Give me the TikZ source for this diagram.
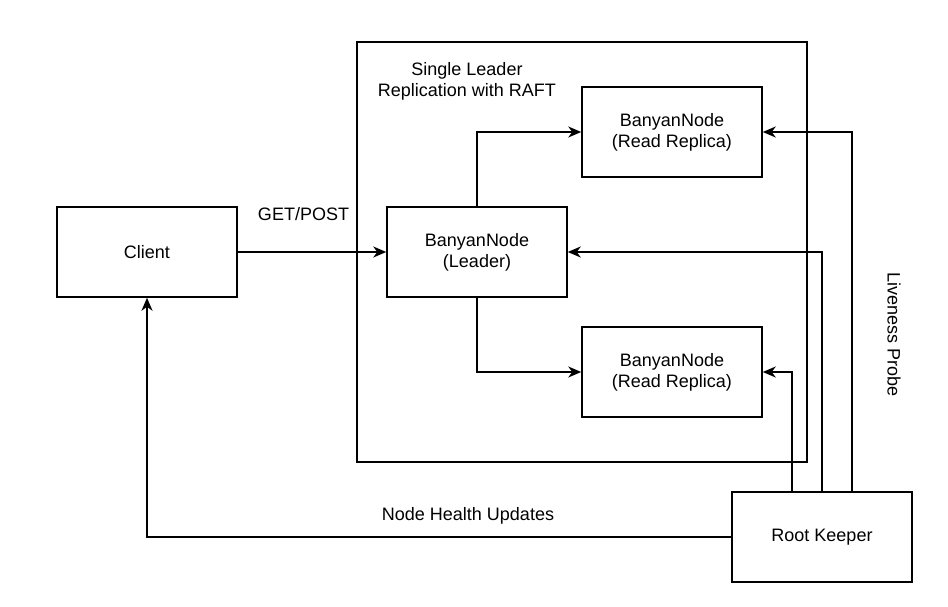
\documentclass[tikz,border=0pt]{standalone}
\usepackage{fontspec}
\setmainfont{Liberation Sans}
\usetikzlibrary{arrows.meta}
\begin{document}
\begin{tikzpicture}[x=1pt,y=-1pt,
  every node/.style={font=\fontsize{18}{21}\selectfont},
  box/.style={draw,line width=1.5pt,minimum width=180pt,minimum height=90pt,inner sep=0pt,align=center},
  link/.style={line width=1.5pt,-{Stealth[length=13pt,width=11pt,inset=4pt]}},
  lbl/.style={inner sep=0pt,align=center}]
\useasboundingbox (0,0) rectangle (948,607);
\node[draw,line width=1.5pt,minimum width=450pt,minimum height=420pt,inner sep=0pt] (cluster) at (582,252) {};
\node[box] (client) at (147,252) {Client};
\node[box] (leader) at (477,252) {BanyanNode\\(Leader)};
\node[box] (rr1) at (672,132) {BanyanNode\\(Read Replica)};
\node[box] (rr2) at (672,372) {BanyanNode\\(Read Replica)};
\node[box] (root) at (822,537) {Root Keeper};
\node[lbl] (title) at (467,81) {Single Leader\\Replication with RAFT};
\node[lbl] (getpost) at (303.5,214.5) {GET/POST};
\node[lbl] (health) at (468,516) {Node Health Updates};
\node[lbl,rotate=-90] (live) at (894,335) {Liveness Probe};
\draw[link] (client.east) -- (leader.west);
\draw[link] (leader.north) |- (rr1.west);
\draw[link] (leader.south) |- (rr2.west);
\draw[link] ([xshift=30pt]root.north) |- (rr1.east);
\draw[link] (root.north) |- (leader.east);
\draw[link] ([xshift=-30pt]root.north) |- (rr2.east);
\draw[link] (root.west) -| (client.south);
\end{tikzpicture}
\end{document}
